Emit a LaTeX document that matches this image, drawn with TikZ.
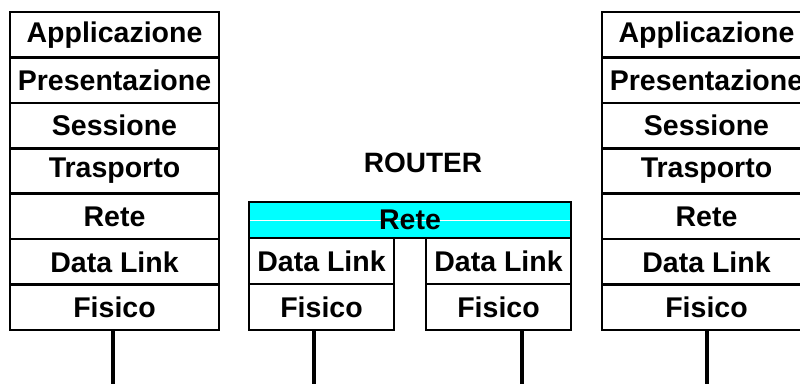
\documentclass[tikz,border=0pt]{standalone}
\usepackage{fontspec}
\setmainfont{Liberation Sans}
\begin{document}
\begin{tikzpicture}[x=1pt,y=-1pt,
  layer/.style={draw=black,line width=2.6pt,fill=white,inner sep=0pt,
    font=\fontsize{28.5}{31}\selectfont\bfseries,text=black},
  stackbox/.style={layer,minimum width=209pt,minimum height=45.43pt},
  rbox/.style={layer,minimum width=145pt,minimum height=46pt},
  wire/.style={line width=4.5pt,draw=black}]
\useasboundingbox (0,0) rectangle (800,384);
\clip (0,0) rectangle (800,384);
% left stack
\foreach \t [count=\i] in {Applicazione,Presentazione,Sessione,Trasporto,Rete,Data Link,Fisico}{
  \node[stackbox] (L\i) at (114.5,{12+45.43*(\i-0.5)}) {\t};
  \node[stackbox] (R\i) at (706.5,{12+45.43*(\i-0.5)}) {\t};
}
% router
\node[font=\fontsize{28}{31}\selectfont\bfseries] (router) at (423,163) {ROUTER};
\node[layer,fill={rgb,255:red,0;green,255;blue,255},minimum width=322pt,minimum height=36pt,
  path picture={\draw[white,line width=0.8pt] ([yshift=-0.7pt]path picture bounding box.west) -- ([yshift=-0.7pt]path picture bounding box.east);}]
  (rete) at (410,220) {Rete};
\node[rbox] (dlA) at (321.5,261) {Data Link};
\node[rbox] (fiA) at (321.5,307) {Fisico};
\node[rbox] (dlB) at (498.5,261) {Data Link};
\node[rbox] (fiB) at (498.5,307) {Fisico};
% wires
\coordinate (wL) at (113,384);
\coordinate (wA) at (314,384);
\coordinate (wB) at (522,384);
\coordinate (wR) at (707,384);
\draw[wire] (L7.south -| wL) -- (wL);
\draw[wire] (fiA.south -| wA) -- (wA);
\draw[wire] (fiB.south -| wB) -- (wB);
\draw[wire] (R7.south -| wR) -- (wR);
\end{tikzpicture}
\end{document}
